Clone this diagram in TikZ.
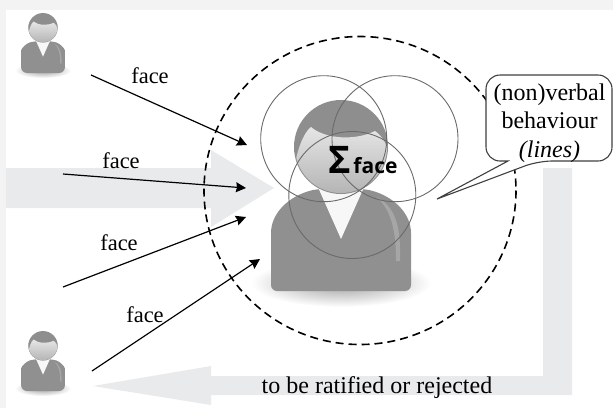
\documentclass[tikz,border=0pt]{standalone}
\usepackage{fontspec}
\setmainfont{Liberation Serif}
\newfontfamily\facefont{Open Sans}
\usetikzlibrary{arrows.meta}
\definecolor{bandgray}{HTML}{E9EAEB}
\definecolor{edgegray}{HTML}{F3F3F3}
\definecolor{bodygray}{HTML}{909090}
\definecolor{hairgray}{HTML}{8E8E8E}
\definecolor{ringgray}{HTML}{6A6A6A}
\tikzset{
  lbl/.style={anchor=base,inner sep=0pt,font=\fontsize{24}{28}\selectfont},
  facelbl/.style={anchor=base,inner sep=0pt,font=\fontsize{22.5}{28}\selectfont},
  facearrow/.style={line width=1.2pt,-{Stealth[length=10pt,width=10pt,inset=1pt]}},
  ring/.style={line width=0.9pt,color=ringgray}
}
% #1 = bottom centre of the figure, #2 = scale
\def\personfig(#1)[#2]{%
  \begin{scope}[shift={(#1)},scale=#2]
    \shade[inner color=black!38,outer color=white] (0,-8) ellipse (90 and 24);
    \fill[rounded corners=6,bodygray] (-70,0) -- (-70,-52) .. controls (-70,-78) and (-52,-95) .. (-24,-102)
      -- (24,-102) .. controls (52,-95) and (70,-78) .. (70,-52) -- (70,0) -- cycle;
    \fill[black!35] (36,-94) .. controls (54,-84) and (60,-66) .. (59,-30) -- (55,-30) .. controls (55,-62) and (50,-80) .. (36,-94) -- cycle;
    \fill[white!97!black] (-24,-106) -- (24,-106) -- (0,-52) -- cycle;
    \fill[hairgray] (0,-144) circle (47);
    \begin{scope}
      \clip (0,-144) circle (46);
      \shade[top color=black!10,bottom color=black!30] (-47,-122) .. controls (-44,-140) and (-38,-158) .. (-30,-164)
        .. controls (-16,-152) and (14,-150) .. (34,-160) .. controls (40,-156) and (46,-148) .. (47,-138)
        -- (47,-95) -- (-47,-95) -- cycle;
    \end{scope}
  \end{scope}}

\begin{document}
\begin{tikzpicture}[x=1pt,y=-1pt]
  \useasboundingbox (0,0) rectangle (613,408);

  % page edges
  \fill[edgegray] (0,0) rectangle (613,10);
  \fill[edgegray] (0,0) rectangle (6,408);

  % grey arrows
  \fill[bandgray] (6,168) -- (211,168) -- (211,150) -- (274,188) -- (211,227) -- (211,208) -- (6,208) -- cycle;
  \fill[bandgray] (543,168) -- (572,168) -- (572,395) -- (211,395) -- (211,405) -- (93,386) -- (211,366)
    -- (211,376) -- (543,376) -- cycle;

  % figures
  \personfig(43,73)[0.314]
  \personfig(43,391)[0.314]
  \personfig(341,291)[1]

  % faces
  \draw[ring] (323.7,138.7) circle (63);
  \draw[ring] (395,138.7) circle (63);
  \draw[ring] (352.3,195) circle (63.5);
  \node[anchor=base,inner sep=0pt,font=\facefont\bfseries\fontsize{38}{38}\selectfont] (sigma) at (339.5,173) {Σ};
  \node[anchor=base,inner sep=0pt,font=\facefont\bfseries\fontsize{21}{21}\selectfont] (total) at (375.5,173) {face};

  % dashed boundary
  \draw[line width=1.6pt,dash pattern=on 8pt off 5pt] (360,190.5) ellipse (156 and 154);

  % arrows
  \coordinate (from1) at (91,75);
  \coordinate (to1) at (247,145);
  \coordinate (from2) at (63,174);
  \coordinate (to2) at (246,188);
  \coordinate (from3) at (63,287);
  \coordinate (to3) at (246,217);
  \coordinate (from4) at (92,371);
  \coordinate (to4) at (260,259);
  \draw[facearrow] (from1) -- (to1);
  \draw[facearrow] (from2) -- (to2);
  \draw[facearrow] (from3) -- (to3);
  \draw[facearrow] (from4) -- (to4);

  \node[facelbl] (face1) at (150,83) {face};
  \node[facelbl] (face2) at (121,168) {face};
  \node[facelbl] (face3) at (119,250) {face};
  \node[facelbl] (face4) at (145,322) {face};

  % callout
  \draw[line width=1.1pt,color=black!75,fill=white,rounded corners=14] (486,75) -- (612,75) -- (612,161) -- (538,161)
    [sharp corners] -- (437,199) -- (508,161) [rounded corners=14] -- (486,161) -- cycle;
  \node[lbl] (line1) at (549.5,100) {(non)verbal};
  \node[lbl] (line2) at (549.5,128) {behaviour};
  \node[lbl] (line3) at (549.5,157) {\itshape (lines)};

  \node[lbl] (back) at (377,393) {to be ratified or rejected};
\end{tikzpicture}
\end{document}
